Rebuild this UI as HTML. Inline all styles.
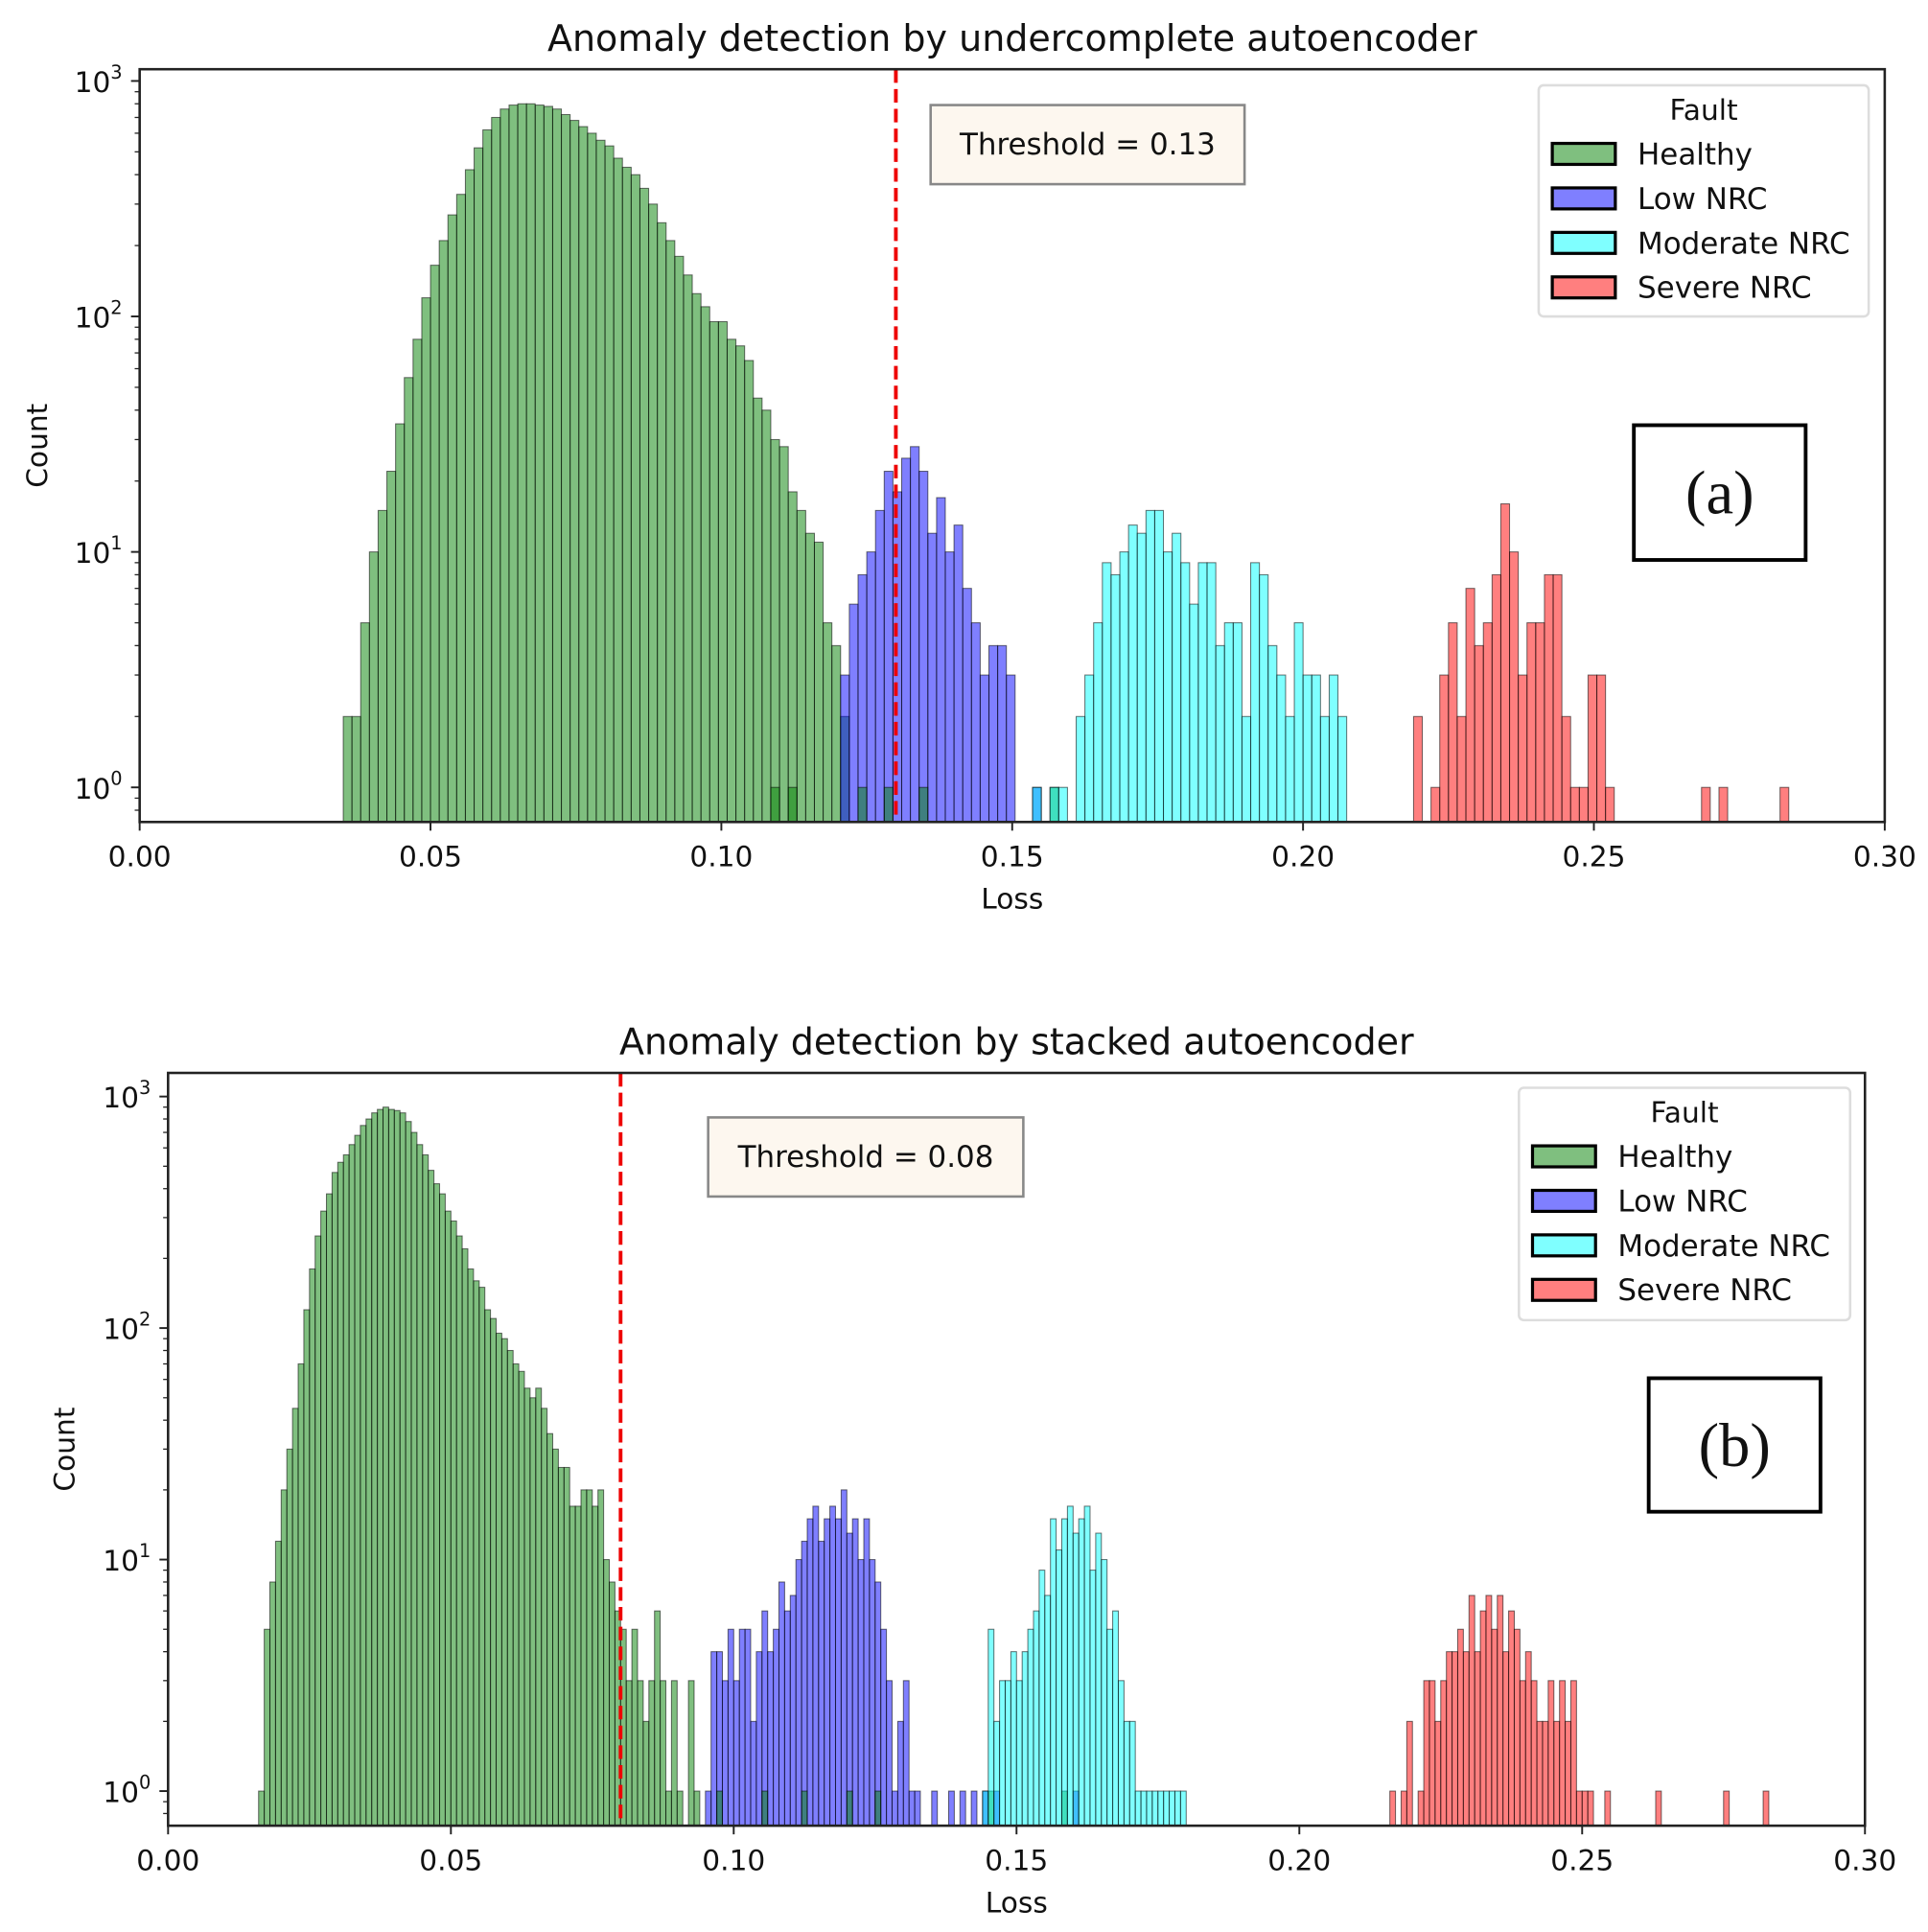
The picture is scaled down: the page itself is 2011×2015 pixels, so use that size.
<!DOCTYPE html>
<html><head><meta charset="utf-8"><style>
html,body{margin:0;padding:0;background:#fff;}
svg{display:block;}
text{font-family:"DejaVu Sans","Liberation Sans",sans-serif;fill:#111;}
</style></head><body>
<svg id="fig" width="2011" height="2015" viewBox="0 0 1560 1563" preserveAspectRatio="none" xmlns="http://www.w3.org/2000/svg"></svg>
<script>
// Panel (a) data: bin width 0.0015
const aBin = 0.0015;
const aHealthyStart = 0.035;
const aHealthy = [2,2,5,10,15,22,35,55,80,120,165,210,270,330,420,520,620,700,760,790,800,800,790,780,760,720,680,640,600,560,530,470,430,400,350,300,250,210,180,150,125,110,95,95,80,75,65,45,40,30,28,18,15,12,11,5,4,2];
const aHealthyExtraX = [0.1085,0.1115,0.1235,0.128,0.134,0.1565];
const aHealthyExtra = [1,1,1,1,1,1];
const aLowStart = 0.1205;
const aLow = [3,6,8,10,15,22,18,25,28,22,12,17,10,13,7,5,3,4,4,3,0,0,1];
const aModStart = 0.1535;
const aMod = [1,0,1,1,0,2,3,5,9,8,10,13,12,15,15,10,12,9,6,9,9,4,5,5,2,9,8,4,3,2,5,3,3,2,3,2];
const aSevStart = 0.219;
const aSev = [2,0,1,3,5,2,7,4,5,8,16,10,3,5,5,8,8,2,1,1,3,3,1,0,0,0,0,0,0,0,0,0,0,1,0,1,0,0,0,0,0,0,1];
const aThreshold = 0.13;

// Panel (b) data: bin width 0.001
const bBin = 0.001;
const bHealthyStart = 0.016;
const bHealthy = [1,5,8,12,20,30,45,70,120,180,250,320,380,470,520,560,620,680,750,800,850,880,900,880,870,850,780,700,620,560,480,420,380,320,290,250,220,180,160,150,120,110,95,90,80,70,65,55,50,55,45,35,30,25,25,17,17,20,20,17,20,10,8,6,5,3,5,3,2,3,6,3,1,3,1,0,3,1];
const bHealthyExtraX = [0.097,0.105,0.112,0.12,0.125,0.145,0.158];
const bHealthyExtra = [1,1,1,1,1,1,1];
const bLowStart = 0.095;
const bLow = [1,4,4,3,5,3,5,5,2,4,6,4,5,8,6,7,10,12,15,17,12,15,17,15,20,13,15,10,15,10,8,5,3,1,2,3,1,1,0,0,1,0,0,1,0,1,0,1,0,1,0,1,0,0,0,0,0,0,0,0,0,0,0,0,0,1];
const bModStart = 0.144;
const bMod = [1,5,2,3,3,4,3,4,5,6,9,7,15,11,15,17,13,15,17,9,13,10,5,6,3,2,2,1,1,1,1,1,1,1,1,1];
const bSevStart = 0.216;
const bSev = [1,0,1,2,0,1,3,3,2,3,4,4,5,4,7,4,6,7,5,7,4,6,5,3,4,3,2,2,3,2,3,2,3,1,1,1,0,0,1,0,0,0,0,0,0,0,0,1,0,0,0,0,0,0,0,0,0,0,0,1,0,0,0,0,0,0,1];
const bThreshold = 0.08;

const xTicks = [0,0.05,0.10,0.15,0.20,0.25,0.30];
const xTickLabels = ["0.00","0.05","0.10","0.15","0.20","0.25","0.30"];
const yDecades = [0,1,2,3];
const legendLabels = ["Healthy","Low NRC","Moderate NRC","Severe NRC"];
const colors = ["#008000","#0000ff","#00ffff","#ff0000"];

const NS="http://www.w3.org/2000/svg";
const svg=document.getElementById('fig');
function mk(tag,attrs,parent){const e=document.createElementNS(NS,tag);for(const k in attrs)e.setAttribute(k,attrs[k]);(parent||svg).appendChild(e);return e;}

function panel(cfg){
  const g=mk('g',{});
  
  
  const L=cfg.left,R=cfg.right,T=cfg.top,B=cfg.bottom;
  const X=v=>L+(v-0)/(0.30-0)*(R-L);
  const Y=c=>cfg.y0-Math.log10(c)*cfg.dec;
  const yBase=B;
  function drawSeries(start,counts,ci,nm){
    const sg=mk('g',{},g);
    
    
    counts.forEach((c,i)=>{
      if(c<=0)return;
      const x0=X(start+i*cfg.bin),x1=X(start+(i+1)*cfg.bin);
      const r=mk('rect',{x:x0,y:Y(c),width:x1-x0,height:yBase-Y(c),fill:colors[ci],'fill-opacity':0.5,stroke:'#000','stroke-opacity':0.55,'stroke-width':0.8},sg);
      
      
    });
  }
  function drawExtras(xs,counts,ci,nm){
    const sg=mk('g',{},g);
    
    
    xs.forEach((xv,i)=>{
      const x0=X(xv),x1=X(xv+cfg.bin);
      const r=mk('rect',{x:x0,y:Y(counts[i]),width:x1-x0,height:yBase-Y(counts[i]),fill:colors[ci],'fill-opacity':0.5,stroke:'#000','stroke-opacity':0.55,'stroke-width':0.8},sg);
      
      
    });
  }
  drawSeries(cfg.h0,cfg.h,0,'healthy-series');
  drawSeries(cfg.l0,cfg.l,1,'low-nrc-series');
  drawExtras(cfg.hx,cfg.hxc,0,'healthy-outliers');
  drawSeries(cfg.m0,cfg.m,2,'moderate-nrc-series');
  drawSeries(cfg.s0,cfg.s,3,'severe-nrc-series');
  const th=mk('line',{x1:X(cfg.th),x2:X(cfg.th),y1:T,y2:B,stroke:'#e00',"stroke-width":3,"stroke-dasharray":"11,5"},g);
  
  
  const fr=mk('rect',{x:L,y:T,width:R-L,height:B-T,fill:'none',stroke:'#222','stroke-width':2},g);
  
  
  xTicks.forEach((t,i)=>{
    mk('line',{x1:X(t),x2:X(t),y1:B,y2:B+7,stroke:'#222','stroke-width':1.5},g);
    const tx=mk('text',{x:X(t),y:B+36,'text-anchor':'middle','font-size':23},g);
    tx.textContent=xTickLabels[i];
    
    
  });
  yDecades.forEach(d=>{
    const y=cfg.y0-d*cfg.dec;
    mk('line',{x1:L-7,x2:L,y1:y,y2:y,stroke:'#222','stroke-width':1.5},g);
    const tx=mk('text',{x:L-14,y:y+9,'text-anchor':'end','font-size':23},g);
    tx.innerHTML='10<tspan dy="-11" font-size="15">'+d+'</tspan>';
    
    
    for(let m=2;m<=9;m++){
      const yy=cfg.y0-(d+Math.log10(m))*cfg.dec;
      if(yy<T||d===3)continue;
      mk('line',{x1:L-4,x2:L,y1:yy,y2:yy,stroke:'#222','stroke-width':1},g);
    }
  });
  for(let m=2;m<=9;m++){const yy=cfg.y0-(-1+Math.log10(m))*cfg.dec;if(yy<B)mk('line',{x1:L-4,x2:L,y1:yy,y2:yy,stroke:'#222','stroke-width':1},g);}
  const tt=mk('text',{x:(L+R)/2,y:T-15,'text-anchor':'middle','font-size':29.5},g);
  tt.textContent=cfg.title;
  
  
  const xl=mk('text',{x:(L+R)/2,y:B+70,'text-anchor':'middle','font-size':23},g);
  xl.textContent='Loss';
  
  
  const yl=mk('text',{x:0,y:0,'text-anchor':'middle','font-size':23,transform:`translate(${cfg.ylx},${(T+B)/2}) rotate(-90)`},g);
  yl.textContent='Count';
  
  
  const tb=cfg.tbox;
  const tbg=mk('g',{},g);
  
  
  mk('rect',{x:tb[0],y:tb[1],width:tb[2],height:tb[3],fill:'#fdf7ef',stroke:'#888','stroke-width':2},tbg);
  const tbt=mk('text',{x:tb[0]+tb[2]/2,y:tb[1]+tb[3]/2+8,'text-anchor':'middle','font-size':24},tbg);
  tbt.textContent='Threshold = '+cfg.thLabel;
  const lg=cfg.leg;
  const lgg=mk('g',{},g);
  
  
  mk('rect',{x:lg[0],y:lg[1],width:lg[2],height:lg[3],rx:4,fill:'#fff',stroke:'#ddd','stroke-width':2},lgg);
  const lt=mk('text',{x:lg[0]+lg[2]/2,y:lg[1]+28,'text-anchor':'middle','font-size':23},lgg);
  lt.textContent='Fault';
  legendLabels.forEach((lab,i)=>{
    const ey=lg[1]+47+i*36;
    const eg=mk('g',{},lgg);
    
    
    mk('rect',{x:lg[0]+11,y:ey,width:51,height:17,fill:colors[i],'fill-opacity':0.5,stroke:'#000','stroke-width':2.5},eg);
    const t=mk('text',{x:lg[0]+80,y:ey+17,'font-size':24},eg);
    t.textContent=lab;
  });
  const pb=cfg.pbox;
  const pg=mk('g',{},g);
  
  
  mk('rect',{x:pb[0],y:pb[1],width:pb[2],height:pb[3],fill:'#fff',stroke:'#000','stroke-width':3},pg);
  const pt=mk('text',{x:pb[0]+pb[2]/2,y:pb[1]+pb[3]/2+17,'text-anchor':'middle','font-size':50,style:'font-family:"Liberation Serif",serif'},pg);
  pt.textContent=cfg.plabel;
}

panel({name:'panel-a',left:113,right:1525,top:56,bottom:665,y0:637,dec:190.5,bin:aBin,
  h0:aHealthyStart,h:aHealthy,hx:aHealthyExtraX,hxc:aHealthyExtra,l0:aLowStart,l:aLow,m0:aModStart,m:aMod,s0:aSevStart,s:aSev,
  th:aThreshold,thLabel:'0.13',title:'Anomaly detection by undercomplete autoencoder',ylx:38,
  tbox:[753,85,254,64],leg:[1245,69,267,187],pbox:[1322,344,139,109],plabel:'(a)'});
panel({name:'panel-b',left:136,right:1509,top:868,bottom:1477,y0:1449,dec:187.3,bin:bBin,
  h0:bHealthyStart,h:bHealthy,hx:bHealthyExtraX,hxc:bHealthyExtra,l0:bLowStart,l:bLow,m0:bModStart,m:bMod,s0:bSevStart,s:bSev,
  th:bThreshold,thLabel:'0.08',title:'Anomaly detection by stacked autoencoder',ylx:60,
  tbox:[573,904,255,64],leg:[1229,880,268,188],pbox:[1334,1115,139,108],plabel:'(b)'});
</script>
</body></html>
